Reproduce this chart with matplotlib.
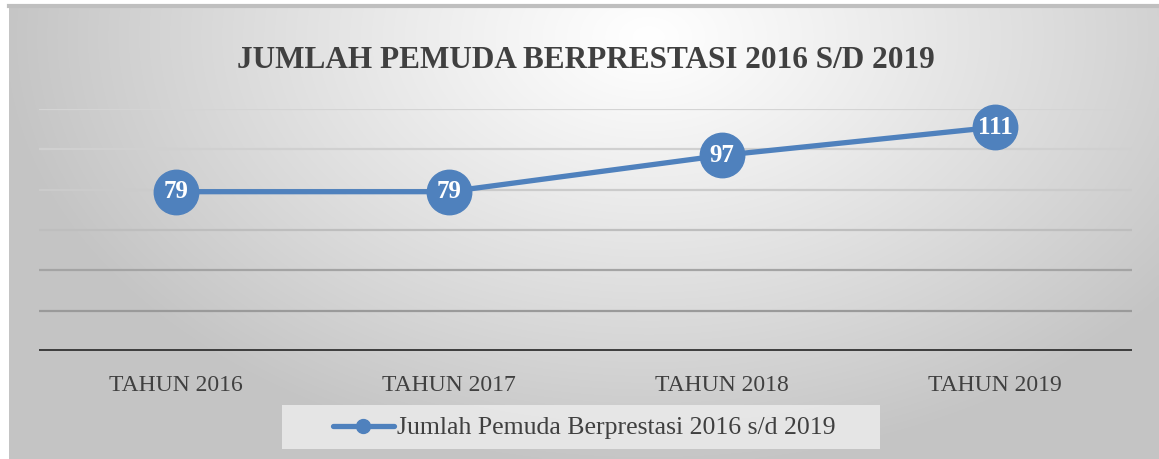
import matplotlib.pyplot as plt
import numpy as np
import matplotlib.lines as mlines
from matplotlib.patches import Rectangle

years = ['TAHUN 2016', 'TAHUN 2017', 'TAHUN 2018', 'TAHUN 2019']
values = [79, 79, 97, 111]
y_ticks = [0, 20, 40, 60, 80, 100, 120]
title = 'JUMLAH PEMUDA BERPRESTASI 2016 S/D 2019'
series_name = 'Jumlah Pemuda Berprestasi 2016 s/d 2019'

blue = '#4f81bd'
dark = '#404040'
font = 'Liberation Serif'

W, H = 1159, 459
fig = plt.figure(figsize=(W / 100, H / 100), dpi=100)

# background with radial gradient, after a small white margin
bg = fig.add_axes([9/W, 0, 1 - 9/W, 1 - 6/H])
bg.set_axis_off()
xx, yy = np.meshgrid(np.linspace(0, 1150, 400), np.linspace(0, 453, 200))
d = np.sqrt((xx - 640) ** 2 + ((yy - 30) * 1.5) ** 2)
shade = 1.0 - 0.23 * np.clip(d / 650, 0, 1) ** 1.1
bg.imshow(np.dstack([shade, shade, shade]), aspect='auto', extent=[0, 1, 0, 1],
          origin='upper', interpolation='bilinear')
bg.set_xlim(0, 1)
bg.set_ylim(0, 1)
bg.plot([0, 1], [1, 1], color='#bfbfbf', lw=3, clip_on=False)

# legend box
fig.patches.append(Rectangle((282/W, 1 - 449/H), 598/W, 44/H, transform=fig.transFigure,
                             facecolor='#ebebeb', edgecolor='none', alpha=0.85, zorder=1))

ax = fig.add_axes([39/W, 108/H, 1093/W, 242/H])
ax.patch.set_alpha(0)
x = np.arange(len(years))
ax.set_xlim(-0.5, len(years) - 0.5)
ax.set_ylim(0, 120)

grid_colors = ['#404040', '#9a9a9a', '#a4a4a4', '#bebebe', '#cbcbcb', '#d0d0d0', '#d4d4d4']
for yv, c in zip(y_ticks[1:], grid_colors[1:]):
    ax.axhline(yv, color=c, lw=1.6, zorder=1)
ax.axhline(0, color='#404040', lw=3.6, zorder=2)

ax.plot(x, values, color=blue, lw=3.8, marker='o', markersize=32,
        solid_capstyle='round', zorder=3, clip_on=False)
for xi, v in zip(x, values):
    ax.text(xi, v, str(v), ha='center', va='center', color='white',
            fontsize=18, fontweight='bold', fontname=font, zorder=4)

for s in ax.spines.values():
    s.set_visible(False)
ax.set_yticks([])
ax.set_xticks(x)
ax.set_xticklabels(years, fontname=font, fontsize=17, color=dark)
ax.tick_params(axis='x', length=0, pad=17)

fig.text(586/W, 1 - 60/H, title, ha='center', va='center', fontname=font,
         fontsize=22.5, fontweight='bold', color=dark)

handle = mlines.Line2D([], [], color=blue, lw=3.8, marker='o', markersize=10,
                       solid_capstyle='round')
leg = fig.legend(handles=[handle], labels=[series_name], loc='center',
                 bbox_to_anchor=(584/W, 1 - 428/H), frameon=False,
                 prop={'family': font, 'size': 18.5}, handlelength=2.4,
                 handletextpad=0.1, borderaxespad=0, labelcolor=dark)
leg.set_zorder(5)

fig.savefig('out.png', dpi=100, facecolor='white')
